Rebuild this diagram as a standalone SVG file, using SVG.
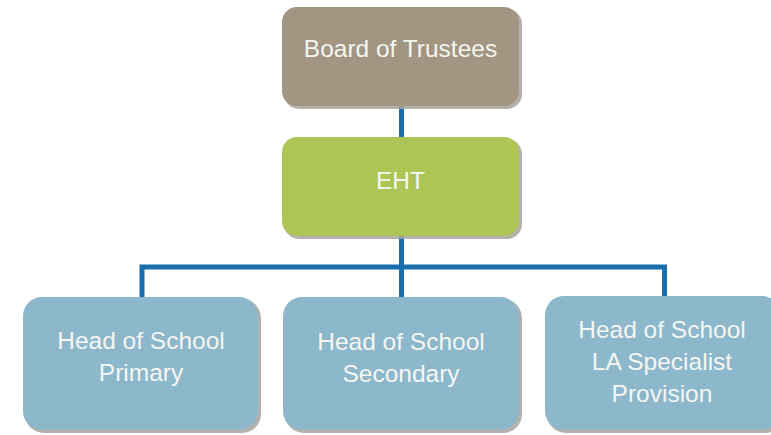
<svg xmlns="http://www.w3.org/2000/svg" width="771" height="435" viewBox="0 0 771 435">
<style>
.sh{fill:#a7a39c;opacity:0.85}
.t{font-family:"Liberation Sans",Arial,sans-serif;font-size:24.5px;fill:#f4f6f2;text-anchor:middle}
.b{fill:#8db7cb}
.c{stroke:#1a6eab;stroke-width:5;fill:none;stroke-linejoin:miter}
</style>
<rect width="771" height="435" fill="#ffffff"/>
<g id="connectors">
<line class="c" x1="401.5" y1="105" x2="401.5" y2="138"/>
<polyline class="c" points="401.5,236 401.5,267"/>
<polyline class="c" points="142,298 142,267 664.5,267 664.5,298"/>
<line class="c" x1="401.5" y1="267" x2="401.5" y2="298"/>
</g>
<g id="board">
<rect class="sh" x="284" y="9" width="238" height="100" rx="15"/>
<rect x="282" y="7" width="237" height="99" rx="15" fill="#a29581"/>
<text class="t" x="400.5" y="57">Board of Trustees</text>
</g>
<g id="eht">
<rect class="sh" x="284" y="139" width="238" height="100" rx="15"/>
<rect x="282" y="137" width="237" height="99" rx="15" fill="#aec556"/>
<text class="t" x="400.5" y="189">EHT</text>
</g>
<g id="primary">
<rect class="sh" x="25" y="299" width="236" height="134" rx="19"/>
<rect class="b" x="23" y="297" width="235" height="133" rx="19"/>
<text class="t" x="141" y="349">Head of School</text>
<text class="t" x="141" y="381">Primary</text>
</g>
<g id="secondary">
<rect class="sh" x="285" y="299" width="237" height="134" rx="19"/>
<rect class="b" x="283" y="297" width="236" height="133" rx="19"/>
<text class="t" x="401" y="350">Head of School</text>
<text class="t" x="401" y="382">Secondary</text>
</g>
<g id="specialist">
<rect class="sh" x="547" y="298" width="237" height="135" rx="19"/>
<rect class="b" x="545" y="296" width="236" height="134" rx="19"/>
<text class="t" x="662" y="338">Head of School</text>
<text class="t" x="662" y="370">LA Specialist</text>
<text class="t" x="662" y="402">Provision</text>
</g>
</svg>
